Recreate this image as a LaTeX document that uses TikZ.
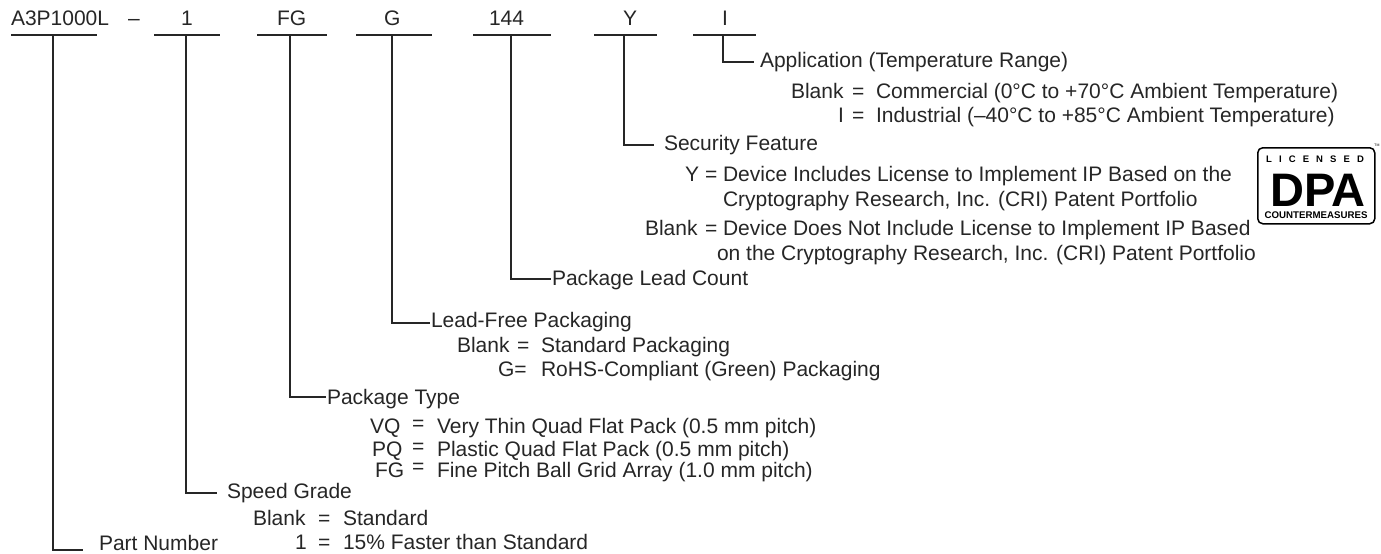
\documentclass[tikz,border=0pt]{standalone}
\usepackage{fontspec}
\setmainfont{Liberation Sans}
\begin{document}
\begin{tikzpicture}[x=1pt,y=-1pt,
  txt/.style={anchor=base west,inner sep=0pt,outer sep=0pt,font=\fontsize{21}{23}\selectfont,text=black!85},
  bar/.style={line width=1.7pt,black!85},
  conn/.style={line width=1.7pt,black!85,line join=miter}]
\useasboundingbox (0,0) rectangle (1381,554);
% header
\node[txt] (pn) at (11,25) {A3P1000L};
\node[txt] (dash) at (128,25) {–};
\node[txt] (t1) at (181,25) {1};
\node[txt] (tfg) at (277,25) {FG};
\node[txt] (tg) at (384,25) {G};
\node[txt] (t144) at (489,25) {144};
\node[txt] (ty) at (623,25) {Y};
\node[txt] (ti) at (722,25) {I};
% bars
\foreach \n/\a/\b/\m in {pn/11/97/53,one/154/220/186,fg/257/327/290,g/356/432/392,lc/473/551/511,y/594/657/624,i/693/756/723}{
  \coordinate (\n L) at (\a,35);
  \coordinate (\n R) at (\b,35);
  \coordinate (\n M) at (\m,35);
  \draw[bar] (\n L) -- (\n R);
}
% labels
\node[txt] (lapp) at (760,67) {Application (Temperature Range)};
\node[txt] at (791,98) {Blank};
\node[txt] at (852,98) {=};
\node[txt] at (876,98) {Commercial (0°C to +70°C Ambient Temperature)};
\node[txt] at (838,122) {I};
\node[txt] at (852,122) {=};
\node[txt] at (876,122) {Industrial (–40°C to +85°C Ambient Temperature)};
\node[txt] (lsec) at (664,150) {Security Feature};
\node[txt] at (685,181) {Y};
\node[txt] at (705,181) {=};
\node[txt] at (723,181) {Device Includes License to Implement IP Based on the};
\node[txt] at (723,206) {Cryptography Research, Inc. (CRI) Patent Portfolio};
\node[txt] at (645,235) {Blank};
\node[txt] at (705,235) {=};
\node[txt] at (723,235) {Device Does Not Include License to Implement IP Based};
\node[txt] at (717,260) {on the Cryptography Research, Inc. (CRI) Patent Portfolio};
\node[txt] (llc) at (552,285) {Package Lead Count};
\node[txt] (llf) at (431,327) {Lead-Free Packaging};
\node[txt] at (457,352) {Blank};
\node[txt] at (517,352) {=};
\node[txt] at (541,352) {Standard Packaging};
\node[txt] at (498,376) {G=};
\node[txt] at (541,376) {RoHS-Compliant (Green) Packaging};
\node[txt] (lpt) at (327,404) {Package Type};
\node[txt] at (370,433) {VQ};
\node[txt] at (412,430) {=};
\node[txt] at (437,433) {Very Thin Quad Flat Pack (0.5 mm pitch)};
\node[txt] at (372,456) {PQ};
\node[txt] at (412,453) {=};
\node[txt] at (437,456) {Plastic Quad Flat Pack (0.5 mm pitch)};
\node[txt] at (375,477) {FG};
\node[txt] at (412,473) {=};
\node[txt] at (437,477) {Fine Pitch Ball Grid Array (1.0 mm pitch)};
\node[txt] (lsg) at (227,498) {Speed Grade};
\node[txt] at (253,525) {Blank};
\node[txt] at (318,525) {=};
\node[txt] at (343,525) {Standard};
\node[txt] at (295,549) {1};
\node[txt] at (318,549) {=};
\node[txt] at (343,549) {15\% Faster than Standard};
\node[txt] (lpart) at (99,550) {Part Number};
% connectors
\coordinate (eapp) at (754,62);
\coordinate (esec) at (654,145);
\coordinate (elc) at (551,279);
\coordinate (elf) at (430,323);
\coordinate (ept) at (326,397);
\coordinate (esg) at (217,493);
\coordinate (epart) at (83,550);
\draw[conn] (iM) |- (eapp);
\draw[conn] (yM) |- (esec);
\draw[conn] (lcM) |- (elc);
\draw[conn] (gM) |- (elf);
\draw[conn] (fgM) |- (ept);
\draw[conn] (oneM) |- (esg);
\draw[conn] (pnM) |- (epart);
% logo
\node[draw=black,line width=1.5pt,rounded corners=5pt,minimum width=117pt,minimum height=76pt,anchor=north west,inner sep=0pt] (logo) at (1257,147) {};
\node[anchor=base,inner sep=0pt,font=\fontsize{9.5}{9.5}\selectfont\bfseries] (lic) at (1315,162) {L\hspace{7.1pt}I\hspace{7.1pt}C\hspace{7.1pt}E\hspace{7.1pt}N\hspace{7.1pt}S\hspace{7.1pt}E\hspace{7.1pt}D};
\node[anchor=base,inner sep=0pt,font=\fontsize{47}{48}\selectfont\bfseries] (dpa) at (1318,206.5) {DPA};
\node[anchor=base,inner sep=0pt,font=\fontsize{9.7}{10}\selectfont\bfseries] (cm) at (1316,218.5) {COUNTERMEASURES};
\node[anchor=center,inner sep=0pt,font=\fontsize{3.5}{4}\selectfont] (tm) at (1377,145) {TM};
\end{tikzpicture}
\end{document}
